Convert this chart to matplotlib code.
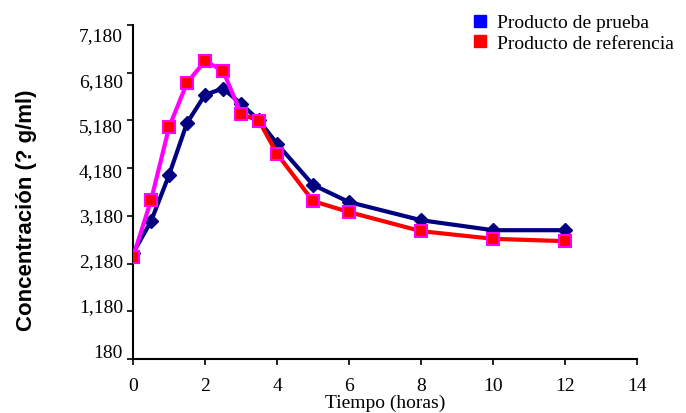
import matplotlib
matplotlib.use("Agg")
import matplotlib.pyplot as plt
from matplotlib.transforms import offset_copy

# Data
time_h = [0, 0.5, 1, 1.5, 2, 2.5, 3, 3.5, 4, 5, 6, 8, 10, 12]
test_product = [2400, 3070, 4040, 5130, 5720, 5850, 5530, 5180, 4690, 3830, 3470, 3090, 2880, 2880]
ref_product = [2320, 3510, 5040, 5970, 6430, 6220, 5320, 5170, 4480, 3490, 3260, 2860, 2700, 2650]
label_test = "Producto de prueba"
label_ref = "Producto de referencia"
y_ticks = [180, 1180, 2180, 3180, 4180, 5180, 6180, 7180]
x_ticks = [0, 2, 4, 6, 8, 10, 12, 14]

serif = "Liberation Serif"
sans = "Liberation Sans"

fig = plt.figure(figsize=(6.86, 4.14), dpi=100)
ax = fig.add_axes([0.194, 0.1304, 0.7346, 0.8066])

navy = "#000080"
# test product line
ax.plot(time_h, test_product, color=navy, lw=3, marker="D", ms=7,
        mfc=navy, mec=navy, zorder=3)
# reference product: magenta segment until t=3, red afterwards
split = 6
ax.plot(time_h[split:], ref_product[split:], color="#FF0000", lw=3, zorder=4)
ax.plot(time_h[:split + 1], ref_product[:split + 1], color="#FF00FF", lw=3, zorder=4)
ax.plot(time_h, ref_product, ls="none", marker="s", ms=8, mfc="#FF0000",
        mec="#FF00FF", mew=1.5, zorder=5)

ax.set_xlim(0, 14)
ax.set_ylim(180, 7180)
ax.set_xticks(x_ticks)
ax.set_yticks(y_ticks)
ax.set_yticklabels([])
for s in ["top", "right"]:
    ax.spines[s].set_visible(False)
for s in ["left", "bottom"]:
    ax.spines[s].set_linewidth(1.5)
    ax.spines[s].set_color("black")
ax.tick_params(direction="out", length=4, width=1.2, colors="black")
ax.tick_params(axis="x", pad=9)
for lab in ax.get_xticklabels():
    lab.set_fontfamily(serif)
    lab.set_fontsize(14)

# y tick labels (spaced slightly tighter than the ticks, as in the original)
n = len(y_ticks)
for i, v in enumerate(y_ticks):
    dy = 7 - i * 18.0 / (n - 1)
    tr = offset_copy(ax.get_yaxis_transform(), fig=fig, x=-10, y=dy, units="dots")
    ax.text(0, v, f"{v:,}", transform=tr, ha="right", va="center",
            fontfamily=serif, fontsize=14, clip_on=False)

ax.set_xlabel("Tiempo (horas)", fontfamily=serif, fontsize=14, labelpad=0)
ax.set_ylabel("Concentración (? g/ml)", fontfamily=sans, fontsize=16,
              fontweight="bold")
ax.yaxis.set_label_coords(-0.19, 0.449)

# legend
h1 = plt.Line2D([], [], ls="none", marker="s", ms=9, mfc="#0000FF", mec="#0000FF")
h2 = plt.Line2D([], [], ls="none", marker="s", ms=8, mfc="#FF0000", mec="#FF0000")
fig.legend([h1, h2], [label_test, label_ref], loc="upper left",
           bbox_to_anchor=(0.667, 0.995), frameon=False,
           prop={"family": serif, "size": 14}, handletextpad=0.4,
           labelspacing=0.15, handlelength=1.0, borderaxespad=0.25)

fig.savefig("out.png", dpi=100)
